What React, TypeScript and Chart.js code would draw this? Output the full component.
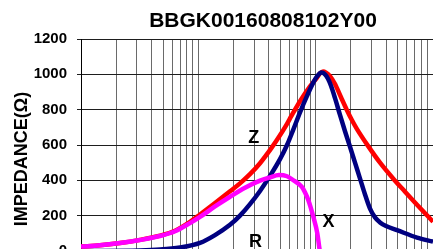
import React, { useEffect, useRef } from "react";
import { Chart, registerables } from "chart.js";

Chart.register(...registerables);

// ---- text ----
const TITLE = "BBGK00160808102Y00";
const Y_TITLE = "IMPEDANCE(Ω)";
const X_TITLE = "FREQUENCY(MHz)";

// ---- data (frequency in MHz, impedance in Ω) ----
const zFreq = [1, 1.45, 2.15, 3.18, 4.71, 6.33, 8.49, 10.33, 13.87, 18.62, 22.65, 27.56, 33.55, 42.2, 49.66, 57, 61.6, 73.55, 89.5, 102.7, 108.9, 115.5, 122.5, 132.5, 146.2, 164.4, 183.9, 204, 225, 279.3, 353.5, 474.6, 577, 730.6, 1000];
const zVal = [25, 32, 45, 63, 87, 115, 165, 207, 272, 338, 383, 435, 497, 585, 655, 720, 760, 848, 932, 982, 1005, 1016, 1010, 990, 945, 870, 800, 740, 690, 595, 500, 398, 336, 262, 166];

const xFreq = [1, 3.18, 4.71, 6.98, 10.33, 13.87, 18.62, 22.65, 27.56, 33.55, 40.82, 49.66, 57, 64.1, 73.55, 84.4, 94.9, 102.7, 112.1, 120.1, 127.4, 135.1, 146.2, 161.2, 177.8, 196.2, 216.4, 238.8, 263.4, 290.5, 320.4, 353.5, 397.6, 493.5, 730.6, 1000];
const xVal = [0, 3, 8, 20, 46, 90, 148, 200, 265, 340, 425, 520, 600, 683, 785, 878, 950, 988, 1010, 1000, 975, 935, 865, 770, 678, 590, 500, 410, 320, 240, 190, 162, 141, 118, 76, 53];

const rFreq = [1, 1.45, 2.15, 3.18, 4.71, 6.33, 8.49, 10.33, 13.87, 18.62, 24.99, 33.55, 40.82, 48.6, 57, 64.1, 76, 81.2, 86.5, 95.5, 103.3, 107.4, 112];
const rVal = [25, 32, 45, 62, 85, 112, 158, 193, 252, 307, 358, 398, 417, 430, 423, 402, 364, 331, 289, 194, 100, 19, -60];

// ---- axes ----
const Y_MIN = 0;
const Y_MAX = 1200;
const Y_STEP = 200;
const X_MIN = 1;
const X_MAX = 1000;
const X_LABELS = [1, 10, 100, 1000];
const X_GRID: number[] = [];
for (let d = 1; d < X_MAX; d *= 10) {
  for (let m = 1; m < 10; m++) X_GRID.push(m * d);
}
X_GRID.push(X_MAX);

// ---- curve labels ----
const curveNames = ["Z", "X", "R"];
const curveLabelFreq = [29.7, 128.4, 30.7];
const curveLabelVal = [647, 175, 62];

const FONT = "'Liberation Sans', Arial, Helvetica, sans-serif";

const toPoints = (f: number[], v: number[]) => f.map((x, i) => ({ x, y: v[i] }));

const textPlugin = {
  id: "textPlugin",
  afterDatasetsDraw(chart: any) {
    const { ctx, scales } = chart;
    const xs = scales.x;
    const ys = scales.y;
    ctx.save();
    ctx.fillStyle = "#000";
    ctx.textAlign = "center";
    ctx.textBaseline = "alphabetic";
    ctx.font = `bold 18px ${FONT}`;
    curveNames.forEach((t, i) => {
      const px = xs.getPixelForValue(curveLabelFreq[i]);
      const py = ys.getPixelForValue(curveLabelVal[i]);
      ctx.fillText(t, px, py + 6.5);
    });
    ctx.restore();
  },
  afterDraw(chart: any) {
    const { ctx, chartArea } = chart;
    ctx.save();
    ctx.fillStyle = "#000";
    ctx.textAlign = "center";
    ctx.textBaseline = "alphabetic";
    ctx.font = `bold 21px ${FONT}`;
    ctx.fillText(TITLE, (chartArea.left + chartArea.right) / 2 + 6, 27);
    ctx.font = `bold 18px ${FONT}`;
    ctx.translate(26.5, 159);
    ctx.rotate(-Math.PI / 2);
    ctx.fillText(Y_TITLE, 0, 0);
    ctx.restore();
  },
};

const lineStyle = {
  borderWidth: 4.5,
  showLine: true,
  pointRadius: 0,
  cubicInterpolationMode: "monotone",
};

export default function App() {
  const ref = useRef<HTMLCanvasElement | null>(null);

  useEffect(() => {
    if (!ref.current) return;
    const chart = new Chart(ref.current, {
      type: "scatter",
      data: {
        datasets: [
          { label: "R", data: toPoints(rFreq, rVal), borderColor: "#FF00FF", backgroundColor: "#FF00FF", ...lineStyle },
          { label: "X", data: toPoints(xFreq, xVal), borderColor: "#000080", backgroundColor: "#000080", ...lineStyle },
          { label: "Z", data: toPoints(zFreq, zVal), borderColor: "#FF0000", backgroundColor: "#FF0000", ...lineStyle },
        ],
      },
      options: {
        animation: false,
        responsive: false,
        devicePixelRatio: 1,
        layout: { padding: { top: 39, left: 0, right: 27, bottom: 0 } },
        plugins: {
          legend: { display: false },
          title: { display: false },
          tooltip: { enabled: false },
        },
        scales: {
          x: {
            type: "logarithmic",
            min: X_MIN,
            max: X_MAX,
            afterBuildTicks: (scale: any) => {
              scale.ticks = X_GRID.map((v) => ({ value: v }));
            },
            afterFit: (scale: any) => {
              scale.height = 49;
            },
            ticks: {
              autoSkip: false,
              maxRotation: 0,
              color: "#000",
              font: { family: FONT, size: 15, weight: "bold" },
              callback: (v: any) => (X_LABELS.includes(Number(v)) ? String(v) : ""),
            },
            grid: { color: "#6a6a6a", lineWidth: 1, tickLength: 4 },
            border: { display: true, color: "#000", width: 1 },
            title: {
              display: true,
              text: X_TITLE,
              color: "#000",
              font: { family: FONT, size: 16, weight: "bold" },
            },
          },
          y: {
            type: "linear",
            min: Y_MIN,
            max: Y_MAX,
            afterFit: (scale: any) => {
              scale.width = 81;
            },
            ticks: {
              stepSize: Y_STEP,
              padding: 10,
              color: "#000",
              font: { family: FONT, size: 15, weight: "bold" },
              callback: (v: any) => String(v),
            },
            grid: { color: "#1e1e1e", lineWidth: 1, tickLength: 4 },
            border: { display: true, color: "#000", width: 1 },
          },
        },
      },
      plugins: [textPlugin],
    } as any);
    return () => chart.destroy();
  }, []);

  return (
    <div
      style={{
        position: "fixed",
        left: 0,
        top: 0,
        width: 433,
        height: 249,
        overflow: "hidden",
        background: "#fff",
      }}
    >
      <canvas ref={ref} width={460} height={300} style={{ display: "block" }} />
    </div>
  );
}
